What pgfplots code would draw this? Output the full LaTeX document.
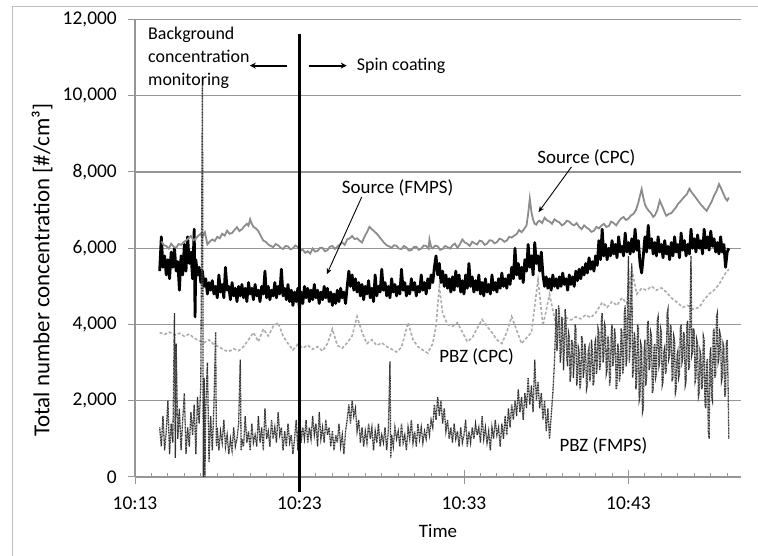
\documentclass[border=0pt]{standalone}
\usepackage{fontspec}
\setmainfont{Carlito}
\usepackage{pgfplots}
\pgfplotsset{compat=1.18}
\usetikzlibrary{arrows.meta}

\definecolor{axgray}{RGB}{150,150,150}
\definecolor{framegray}{RGB}{190,190,190}
\definecolor{cpcsrc}{RGB}{140,140,140}
\definecolor{cpcpbz}{RGB}{172,172,172}
\definecolor{fmpspbz}{RGB}{50,50,50}

\newcommand{\lbl}{\fontsize{19}{23}\selectfont}
\newcommand{\tkl}{\fontsize{19.5}{23}\selectfont}
\newcommand{\ylb}{\fontsize{23}{27}\selectfont}
\newcommand{\ann}{\fontsize{18}{23}\selectfont}

\begin{document}
\begin{tikzpicture}[x=1bp,y=1bp]
\useasboundingbox (0,0) rectangle (758,556);
\draw[framegray, line width=1bp] (12,0) -- (12,549) -- (758,549);
\begin{axis}[
    at={(135bp,79bp)}, anchor=south west,
    scale only axis, width=606bp, height=457.5bp,
    xmin=0, xmax=36.84, ymin=0, ymax=12000,
    axis x line*=bottom, axis y line*=left,
    axis line style={axgray, line width=1.2bp},
    ymajorgrids, grid style={axgray, line width=1.2bp},
    xtick={0,10,20,30},
    xticklabels={10:13,10:23,10:33,10:43},
    ytick={0,2000,4000,6000,8000,10000,12000},
    scaled y ticks=false,
    extra x ticks={1,2,3,4,5,6,7,8,9,11,12,13,14,15,16,17,18,19,21,22,23,24,25,26,27,28,29,31,32,33,34,35,36},
    extra x tick labels={},
    extra x tick style={tick align=inside, major tick length=4bp, grid=none},
    tick align=center, major tick length=14bp,
    tick style={axgray, line width=1bp},
    /pgf/number format/assume math mode=true,
    /pgf/number format/1000 sep={,},
    yticklabel style={font=\tkl, anchor=east, inner sep=0pt, xshift=-11bp},
    xticklabel style={font=\tkl, anchor=center, inner sep=0pt, yshift=-19bp},
    every axis y label/.style={at={(axis description cs:-0.1535,0.452)}, rotate=90, anchor=center, font=\ylb},
    every axis x label/.style={at={(axis description cs:0.5,-0.118)}, anchor=center, font=\lbl},
    ylabel={Total number concentration [\#/cm³]},
    xlabel={Time},
    clip=false,
]
% Source (FMPS)
\addplot[black, line width=2.8bp, line join=round] coordinates {
(1.5,5400) (1.6,6300) (1.7,5500) (1.8,5800) (1.9,5300) (2.0,5700) (2.1,5200) (2.2,5900) (2.3,5500) (2.4,6000)
(2.5,5400) (2.6,5650) (2.7,4900) (2.8,5800) (2.9,5300) (3.0,6100) (3.1,5400) (3.2,6300) (3.3,5600) (3.4,5900)
(3.5,5200) (3.6,6500) (3.65,4200) (3.7,5700) (3.8,5300) (3.9,5500) (4.0,5100) (4.1,5400) (4.2,5000) (4.3,5200)
(4.4,4800) (4.5,5100) (4.6,4900) (4.7,5150) (4.8,4800) (4.9,5000) (5.0,4700) (5.1,5300) (5.2,4850) (5.3,5050)
(5.4,4700) (5.5,5500) (5.6,4900) (5.7,5000) (5.8,4650) (5.9,5100) (6.0,4750) (6.1,4950) (6.2,4600) (6.3,5000)
(6.4,4750) (6.5,5050) (6.6,4700) (6.7,4950) (6.8,4600) (6.9,5100) (7.0,4800) (7.1,4950) (7.2,4650) (7.3,5050)
(7.4,4750) (7.5,4900) (7.6,4600) (7.7,5000) (7.8,4800) (7.9,5400) (8.0,4700) (8.1,5000) (8.2,4650) (8.3,4900)
(8.4,4750) (8.5,5100) (8.6,4700) (8.7,5000) (8.8,4800) (8.9,5450) (9.0,4750) (9.1,4950) (9.2,4650) (9.3,5050)
(9.4,4600) (9.5,4900) (9.6,4500) (9.7,4850) (9.8,4600) (9.9,4950) (10.0,4400) (10.1,4850) (10.2,4550) (10.3,5000)
(10.4,4700) (10.5,4950) (10.6,4600) (10.7,4900) (10.8,4650) (10.9,5050) (11.0,4700) (11.1,4900) (11.2,4550) (11.3,4850)
(11.4,4650) (11.5,5000) (11.6,4700) (11.7,4950) (11.8,4600) (11.9,4850) (12.0,4500) (12.1,4800) (12.2,4550) (12.3,4900)
(12.4,4600) (12.5,4950) (12.6,4700) (12.7,4850) (12.8,4550) (12.9,5000) (13.0,5400) (13.1,5000) (13.2,5300) (13.3,4900)
(13.4,5200) (13.5,4850) (13.6,5100) (13.7,4750) (13.8,5050) (13.9,4650) (14.0,5000) (14.1,4800) (14.2,5150) (14.3,4700)
(14.4,4950) (14.5,4600) (14.6,5300) (14.7,4750) (14.8,5000) (14.9,4850) (15.0,5450) (15.1,4900) (15.2,5100) (15.3,4750)
(15.4,5000) (15.5,4700) (15.6,5200) (15.7,4850) (15.8,5050) (15.9,4750) (16.0,5000) (16.1,4800) (16.2,5450) (16.3,4900)
(16.4,5100) (16.5,4750) (16.6,5000) (16.7,4800) (16.8,5200) (16.9,4900) (17.0,5100) (17.1,4750) (17.2,5000) (17.3,4850)
(17.4,5300) (17.5,4900) (17.6,5100) (17.7,4800) (17.8,5200) (17.9,4950) (18.0,5300) (18.1,5100) (18.2,5500) (18.3,5800)
(18.4,5300) (18.5,5600) (18.6,5100) (18.7,5400) (18.8,5000) (18.9,5300) (19.0,4950) (19.1,5200) (19.2,4850) (19.3,5250)
(19.4,4900) (19.5,5400) (19.6,5000) (19.7,5300) (19.8,4850) (19.9,5150) (20.0,4800) (20.1,5300) (20.2,4950) (20.3,5600)
(20.4,5000) (20.5,5250) (20.6,4850) (20.7,5150) (20.8,4900) (20.9,5300) (21.0,4800) (21.1,5100) (21.2,4750) (21.3,5200)
(21.4,4850) (21.5,5050) (21.6,4800) (21.7,5300) (21.8,4900) (21.9,5100) (22.0,4850) (22.1,5200) (22.2,4950) (22.3,5350)
(22.4,5000) (22.5,5200) (22.6,4950) (22.7,5300) (22.8,5050) (22.9,5500) (23.0,5200) (23.1,6000) (23.2,5300) (23.3,5600)
(23.4,5200) (23.5,5500) (23.6,5100) (23.7,5700) (23.8,5400) (23.9,6100) (24.0,5500) (24.1,5800) (24.2,5300) (24.3,6150)
(24.4,5600) (24.5,5800) (24.6,5400) (24.7,5900) (24.8,5300) (24.9,5000) (25.0,5250) (25.1,4950) (25.2,5200) (25.3,4900)
(25.4,5300) (25.5,5000) (25.6,5200) (25.7,4950) (25.8,5250) (25.9,5000) (26.0,5350) (26.1,5050) (26.2,5200) (26.3,4900)
(26.4,5300) (26.5,5050) (26.6,5250) (26.7,5000) (26.8,5400) (26.9,5150) (27.0,5450) (27.1,5200) (27.2,5500) (27.3,5300)
(27.4,5600) (27.5,5350) (27.6,5750) (27.7,5450) (27.8,5650) (27.9,5400) (28.0,5800) (28.1,5550) (28.2,6200) (28.3,5700)
(28.4,6500) (28.5,5800) (28.6,6100) (28.7,5700) (28.8,6000) (28.9,5800) (29.0,6200) (29.1,5850) (29.2,6100) (29.3,5750)
(29.4,6300) (29.5,5900) (29.6,6050) (29.7,5800) (29.8,6400) (29.9,5900) (30.0,6150) (30.1,5850) (30.2,6250) (30.3,5900)
(30.4,6500) (30.5,5950) (30.6,6200) (30.7,5600) (30.8,5350) (30.9,5800) (31.0,6300) (31.1,5900) (31.2,6600) (31.3,6000)
(31.4,6250) (31.5,5850) (31.6,6150) (31.7,5800) (31.8,6300) (31.9,5900) (32.0,6100) (32.1,5750) (32.2,6200) (32.3,5850)
(32.4,6050) (32.5,5700) (32.6,6150) (32.7,5800) (32.8,6300) (32.9,5900) (33.0,6100) (33.1,5750) (33.2,6400) (33.3,5950)
(33.4,6200) (33.5,5800) (33.6,6100) (33.7,5850) (33.8,6500) (33.9,6000) (34.0,6250) (34.1,5900) (34.2,6350) (34.3,6000)
(34.4,6200) (34.5,5850) (34.6,6500) (34.7,6000) (34.8,6300) (34.9,5950) (35.0,6450) (35.1,6050) (35.2,6250) (35.3,5900)
(35.4,6150) (35.5,5850) (35.6,6300) (35.7,5900) (35.8,6100) (35.9,5500) (36.0,5900) (36.1,6000)
};
% Source (CPC)
\addplot[cpcsrc, line width=1.8bp] coordinates {
(1.6,6180) (1.75,6080) (1.9,6060) (2.05,5990) (2.2,6120) (2.35,6040) (2.5,6010) (2.65,6110) (2.8,6090) (2.95,6160)
(3.1,6200) (3.25,6260) (3.4,6320) (3.55,6210) (3.7,6250) (3.85,6330) (4.0,6380) (4.1,6300) (4.25,6420) (4.4,6100)
(4.55,6180) (4.7,6230) (4.85,6190) (5.0,6300) (5.15,6260) (5.3,6380) (5.45,6330) (5.6,6460) (5.75,6380) (5.9,6400)
(6.05,6480) (6.2,6550) (6.35,6450) (6.5,6500) (6.65,6580) (6.8,6640) (6.9,6590) (7.0,6760) (7.1,6640) (7.2,6560)
(7.35,6520) (7.5,6450) (7.65,6320) (7.8,6200) (7.95,6170) (8.1,6100) (8.25,6060) (8.4,6030) (8.55,6110) (8.7,6080)
(8.85,6010) (9.0,5980) (9.15,6060) (9.3,6050) (9.45,5970) (9.6,6000) (9.75,6070) (9.9,6030) (10.05,5940) (10.2,5960)
(10.35,5880) (10.5,5920) (10.65,5860) (10.8,5990) (10.95,5910) (11.1,5930) (11.25,6010) (11.4,6010) (11.55,5920) (11.7,5950)
(11.85,6040) (12.0,6060) (12.15,5980) (12.3,6040) (12.45,6100) (12.6,6150) (12.75,6090) (12.9,6230) (13.05,6260) (13.2,6320)
(13.35,6240) (13.5,6260) (13.65,6200) (13.8,6150) (13.95,6300) (14.1,6420) (14.25,6560) (14.4,6500) (14.55,6440) (14.7,6380)
(14.85,6300) (15.0,6220) (15.15,6140) (15.3,6080) (15.45,6050) (15.6,6010) (15.75,6080) (15.9,6060) (16.05,5990) (16.2,5980)
(16.35,6060) (16.5,6020) (16.65,5940) (16.8,5950) (16.95,6030) (17.1,6040) (17.25,5960) (17.4,5990) (17.55,6070) (17.7,6060)
(17.85,5990) (17.9,6230) (18.0,6040) (18.1,6000) (18.25,6070) (18.4,6050) (18.55,5960) (18.7,5980) (18.85,6060) (19.0,6030)
(19.15,5990) (19.3,6080) (19.45,6120) (19.6,6010) (19.75,6100) (19.9,6230) (20.05,6150) (20.2,6120) (20.35,6060) (20.5,6170)
(20.65,6130) (20.8,6100) (20.95,6200) (21.1,6180) (21.25,6090) (21.4,6120) (21.55,6210) (21.7,6200) (21.85,6130) (22.0,6160)
(22.15,6250) (22.3,6230) (22.45,6170) (22.6,6200) (22.75,6300) (22.9,6280) (23.05,6330) (23.2,6370) (23.35,6480) (23.5,6420)
(23.65,6500) (23.8,6600) (23.9,6900) (24.0,7300) (24.1,6950) (24.2,6750) (24.3,6640) (24.4,6620) (24.5,6700) (24.6,6720)
(24.75,6660) (24.9,6800) (25.05,6730) (25.2,6700) (25.35,6640) (25.5,6760) (25.65,6710) (25.8,6680) (25.95,6600) (26.1,6640)
(26.25,6720) (26.4,6700) (26.55,6630) (26.7,6600) (26.85,6660) (27.0,6560) (27.15,6500) (27.3,6600) (27.45,6540) (27.6,6500)
(27.75,6430) (27.9,6460) (28.05,6560) (28.2,6520) (28.35,6590) (28.5,6640) (28.65,6560) (28.8,6580) (28.95,6700) (29.1,6660)
(29.25,6600) (29.4,6700) (29.55,6780) (29.7,6820) (29.85,6740) (30.0,6780) (30.15,6860) (30.3,6900) (30.45,7000) (30.6,7200)
(30.7,7380) (30.8,7550) (30.9,7330) (31.0,7150) (31.1,7060) (31.2,7000) (31.3,6950) (31.4,6900) (31.5,6820) (31.6,6860)
(31.75,7000) (31.9,7250) (32.0,7150) (32.1,7050) (32.2,6940) (32.3,6850) (32.45,6900) (32.6,6920) (32.75,7000) (32.9,7080)
(33.0,7160) (33.1,7200) (33.25,7280) (33.4,7350) (33.55,7420) (33.7,7560) (33.85,7460) (34.0,7380) (34.15,7290) (34.3,7200)
(34.45,7120) (34.6,7050) (34.75,6980) (34.9,7100) (35.05,7220) (35.2,7380) (35.35,7500) (35.5,7680) (35.65,7550) (35.8,7400)
(35.9,7300) (36.0,7250) (36.1,7330)
};
% PBZ (CPC)
\addplot[cpcpbz, line width=1.6bp, dash pattern=on 3bp off 2bp] coordinates {
(1.5,3790) (1.8,3740) (2.1,3800) (2.4,3720) (2.7,3770) (3.0,3690) (3.3,3750) (3.6,3640) (3.9,3580) (4.2,3520)
(4.5,3600) (4.8,3470) (5.1,3420) (5.4,3330) (5.7,3290) (6.0,3360) (6.3,3310) (6.6,3420) (6.9,3600) (7.2,3790)
(7.5,3550) (7.8,3880) (8.1,3700) (8.4,3950) (8.7,4050) (9.0,3700) (9.3,3500) (9.6,3330) (9.9,3480) (10.2,3380)
(10.5,3460) (10.8,3350) (11.1,3420) (11.4,3300) (11.7,3500) (12.0,3880) (12.3,3450) (12.6,3380) (12.9,3520) (13.2,3700)
(13.5,4210) (13.8,3800) (14.1,3500) (14.4,3600) (14.7,3450) (15.0,3520) (15.3,3420) (15.6,3350) (15.9,3280) (16.2,3400)
(16.6,4050) (16.9,3600) (17.2,3420) (17.5,3330) (17.8,3250) (18.1,3500) (18.3,3970) (18.5,5000) (18.7,4300) (19.0,4000)
(19.3,3950) (19.6,4050) (19.9,3800) (20.2,3550) (20.5,3650) (20.8,3900) (21.1,4130) (21.4,3950) (21.7,3790) (22.0,3600)
(22.3,3500) (22.6,3800) (22.9,4210) (23.2,3850) (23.5,3500) (23.8,3650) (24.1,3790) (24.5,5180) (24.8,3970) (25.2,4790)
(25.6,3970) (25.9,4100) (26.2,4180) (26.5,4120) (26.8,4200) (27.1,4150) (27.4,4250) (27.7,4180) (28.0,4300) (28.4,4580)
(28.7,4450) (29.0,4600) (29.3,4500) (29.6,4700) (29.9,4550) (30.2,5450) (30.5,4800) (30.8,4950) (31.1,4900) (31.4,5000)
(31.7,4900) (32.0,4960) (32.3,4850) (32.6,4700) (32.9,4600) (33.3,4450) (33.6,4500) (33.9,4400) (34.3,4450) (34.6,4650)
(34.9,4800) (35.2,4900) (35.5,5050) (35.7,5200) (35.9,5350) (36.1,5450)
};
% PBZ (FMPS)
\addplot[fmpspbz, line width=1.3bp, dash pattern=on 1bp off 0.6bp] coordinates {
(1.5,1300) (1.6,800) (1.7,1600) (1.8,700) (1.9,1200) (2.0,2000) (2.1,600) (2.2,1400) (2.3,900) (2.4,4300)
(2.45,500) (2.5,3500) (2.6,1000) (2.7,1800) (2.8,700) (2.9,1500) (3.0,2200) (3.1,600) (3.2,1300) (3.3,800)
(3.4,1700) (3.5,1100) (3.6,1900) (3.7,600) (3.8,2100) (3.9,1400) (4.0,2400) (4.1,10500) (4.15,0) (4.2,2600)
(4.25,0) (4.3,1800) (4.4,3000) (4.5,400) (4.6,1600) (4.7,700) (4.8,1900) (4.9,3800) (4.95,800) (5.0,1300)
(5.1,700) (5.2,1200) (5.3,900) (5.4,1500) (5.5,800) (5.6,1100) (5.7,600) (5.8,1000) (5.9,700) (6.0,1300)
(6.1,800) (6.2,1000) (6.3,1400) (6.4,3080) (6.45,700) (6.5,1000) (6.6,800) (6.7,1600) (6.8,900) (6.9,1200)
(7.0,700) (7.1,1400) (7.2,900) (7.3,1100) (7.4,800) (7.5,1600) (7.6,900) (7.7,1300) (7.8,700) (7.9,1800)
(8.0,1000) (8.1,1200) (8.2,800) (8.3,1500) (8.4,1000) (8.5,1300) (8.6,900) (8.7,1700) (8.8,1100) (8.9,1300)
(9.0,700) (9.1,1200) (9.2,800) (9.3,1400) (9.4,900) (9.5,1100) (9.6,600) (9.7,1000) (9.8,1500) (9.9,700)
(10.0,1800) (10.1,900) (10.2,1300) (10.3,1000) (10.4,1500) (10.5,900) (10.6,1300) (10.7,1000) (10.8,1600) (10.9,1100)
(11.0,1400) (11.1,800) (11.2,1700) (11.3,1000) (11.4,1300) (11.5,900) (11.6,1500) (11.7,1100) (11.8,1300) (11.9,800)
(12.0,1200) (12.1,700) (12.2,1100) (12.3,900) (12.4,1400) (12.5,800) (12.6,1100) (12.7,600) (12.8,1200) (12.9,1500)
(13.0,1900) (13.1,1400) (13.2,2000) (13.3,1600) (13.4,1800) (13.5,1200) (13.6,1500) (13.7,900) (13.8,1300) (13.9,800)
(14.0,1200) (14.1,900) (14.2,1400) (14.3,1000) (14.4,1300) (14.5,700) (14.6,1200) (14.7,900) (14.8,1400) (14.9,800)
(15.0,1100) (15.1,900) (15.2,1300) (15.3,700) (15.4,1200) (15.5,3030) (15.55,500) (15.6,1100) (15.7,800) (15.8,1300)
(15.9,1000) (16.0,1200) (16.1,800) (16.2,1400) (16.3,900) (16.4,1100) (16.5,700) (16.6,1300) (16.7,1000) (16.8,1500)
(16.9,900) (17.0,1200) (17.1,800) (17.2,1400) (17.3,1000) (17.4,1300) (17.5,900) (17.6,1200) (17.7,1000) (17.8,1400)
(17.9,1100) (18.0,1500) (18.1,1300) (18.2,1900) (18.3,1500) (18.4,2100) (18.5,1600) (18.6,2000) (18.7,1400) (18.8,1800)
(18.9,1200) (19.0,1500) (19.1,1000) (19.2,1300) (19.3,900) (19.4,1400) (19.5,1000) (19.6,1200) (19.7,800) (19.8,1300)
(19.9,900) (20.0,1100) (20.1,1500) (20.2,800) (20.3,1200) (20.4,900) (20.5,1300) (20.6,1000) (20.7,1400) (20.8,1100)
(20.9,1300) (21.0,900) (21.1,1600) (21.2,1000) (21.3,1300) (21.4,900) (21.5,1200) (21.6,700) (21.7,1300) (21.8,1000)
(21.9,1500) (22.0,1100) (22.1,1300) (22.2,800) (22.3,1400) (22.4,1000) (22.5,1600) (22.6,1100) (22.7,1800) (22.8,1300)
(22.9,1900) (23.0,1500) (23.1,2000) (23.2,1600) (23.3,2300) (23.4,1700) (23.5,2100) (23.6,1500) (23.7,2200) (23.8,1800)
(23.9,2600) (24.0,1900) (24.1,2400) (24.2,1700) (24.3,3080) (24.4,2000) (24.5,2500) (24.6,1800) (24.7,2200) (24.8,1500)
(24.9,2000) (25.0,1200) (25.1,1800) (25.2,1000) (25.3,1600) (25.4,2200) (25.5,3000) (25.6,4400) (25.65,3300) (25.7,3600)
(25.75,4500) (25.8,4300) (25.85,3000) (25.9,3200) (25.95,4200) (26.0,3900) (26.05,2800) (26.1,3400) (26.15,4400) (26.2,4100)
(26.25,3100) (26.3,2900) (26.35,3800) (26.4,3700) (26.45,2500) (26.5,2700) (26.55,3600) (26.6,3500) (26.65,2600) (26.7,3000)
(26.75,4000) (26.8,3900) (26.85,2400) (26.9,2600) (26.95,3400) (27.0,3300) (27.05,2300) (27.1,2500) (27.15,3700) (27.2,3600)
(27.25,2600) (27.3,2800) (27.35,3500) (27.4,3200) (27.45,2300) (27.5,2400) (27.55,3300) (27.6,3400) (27.65,2500) (27.7,2700)
(27.75,3600) (27.8,3300) (27.85,2400) (27.9,2500) (27.95,3500) (28.0,3600) (28.05,2700) (28.1,2900) (28.15,3900) (28.2,3800)
(28.25,2800) (28.3,3000) (28.35,4100) (28.4,4300) (28.45,3000) (28.5,3200) (28.55,4000) (28.6,3900) (28.65,2700) (28.7,2800)
(28.75,3700) (28.8,3500) (28.85,2400) (28.9,2600) (28.95,3800) (29.0,4000) (29.05,2900) (29.1,3100) (29.15,3900) (29.2,3700)
(29.25,2300) (29.3,2400) (29.35,3500) (29.4,3300) (29.45,2500) (29.5,2700) (29.55,3900) (29.6,3800) (29.65,2700) (29.7,2900)
(29.75,4300) (29.8,4500) (29.85,2900) (29.9,3100) (29.95,4800) (30.0,5800) (30.05,3000) (30.1,3400) (30.15,4900) (30.2,5600)
(30.25,2600) (30.3,2800) (30.35,3800) (30.4,3600) (30.45,2300) (30.5,2500) (30.55,4000) (30.6,3900) (30.65,2000) (30.7,2100)
(30.75,3500) (30.8,3400) (30.85,1700) (30.9,1800) (30.95,3300) (31.0,3600) (31.05,2400) (31.1,2600) (31.15,4000) (31.2,4100)
(31.25,2800) (31.3,2900) (31.35,3800) (31.4,3700) (31.45,2200) (31.5,2300) (31.55,3400) (31.6,3500) (31.65,2600) (31.7,2700)
(31.75,4100) (31.8,4200) (31.85,2900) (31.9,3000) (31.95,3900) (32.0,3800) (32.05,2400) (32.1,2500) (32.15,3300) (32.2,3400)
(32.25,2700) (32.3,2800) (32.35,4300) (32.4,4400) (32.45,3100) (32.5,3200) (32.55,4000) (32.6,3900) (32.65,2500) (32.7,2600)
(32.75,3700) (32.8,3600) (32.85,2200) (32.9,2300) (32.95,3200) (33.0,3300) (33.05,2600) (33.1,2700) (33.15,3900) (33.2,4000)
(33.25,3000) (33.3,3100) (33.35,3800) (33.4,3700) (33.45,2400) (33.5,2500) (33.55,4000) (33.6,4100) (33.65,2800) (33.7,2900)
(33.75,4600) (33.8,5800) (33.85,3200) (33.9,3300) (33.95,3900) (34.0,3800) (34.05,2500) (34.1,2600) (34.15,3600) (34.2,3500)
(34.25,2100) (34.3,2200) (34.35,3300) (34.4,3200) (34.45,2300) (34.5,2400) (34.55,3700) (34.6,3600) (34.65,1900) (34.7,1800)
(34.75,3000) (34.8,3100) (34.85,1200) (34.9,1000) (34.95,3200) (35.0,3400) (35.05,2100) (35.1,2000) (35.15,3800) (35.2,3900)
(35.25,2600) (35.3,2700) (35.35,4200) (35.4,4300) (35.45,3000) (35.5,3100) (35.55,3800) (35.6,3700) (35.65,2500) (35.7,2600)
(35.75,3500) (35.8,3400) (35.85,2100) (35.9,2200) (35.95,3500) (36.0,3600) (36.05,2500) (36.1,1000)
};
% spin coating start marker and annotations
\draw[black, line width=3bp] (axis cs:10,11630) -- (axis cs:10,-395);
\draw[black, line width=1.8bp, -{Stealth[length=6bp,width=6bp]}] (axis cs:9.23,10790) -- (axis cs:6.98,10790);
\draw[black, line width=1.8bp, -{Stealth[length=6bp,width=6bp]}] (axis cs:10.56,10790) -- (axis cs:12.87,10790);
\node[anchor=west, align=left, font=\ann, inner sep=0pt] at (axis cs:0.79,11000) {Background\\concentration\\monitoring};
\node[anchor=west, font=\ann, inner sep=0pt] at (axis cs:13.48,10790) {Spin coating};
\node[font=\lbl] at (axis cs:15.97,7590) {Source (FMPS)};
\draw[black, line width=0.9bp, -{Stealth[length=6bp,width=5bp]}] (axis cs:13.78,7342) -- (axis cs:11.66,5316);
\node[font=\lbl] at (axis cs:27.44,8368) {Source (CPC)};
\draw[black, line width=0.9bp, -{Stealth[length=6bp,width=5bp]}] (axis cs:26.53,8132) -- (axis cs:24.53,6947);
\node[font=\lbl] at (axis cs:20.77,3158) {PBZ (CPC)};
\node[font=\lbl] at (axis cs:28.48,816) {PBZ (FMPS)};
\end{axis}
\end{tikzpicture}
\end{document}
